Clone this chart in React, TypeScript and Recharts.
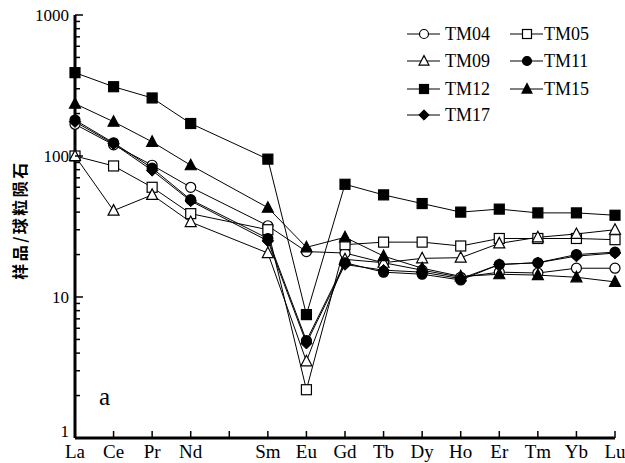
import React from 'react';
import { LineChart, Line, XAxis, YAxis, Legend } from 'recharts';

const elements = ['La', 'Ce', 'Pr', 'Nd', 'Pm', 'Sm', 'Eu', 'Gd', 'Tb', 'Dy', 'Ho', 'Er', 'Tm', 'Yb', 'Lu'];
const tickLabels = ['La', 'Ce', 'Pr', 'Nd', '', 'Sm', 'Eu', 'Gd', 'Tb', 'Dy', 'Ho', 'Er', 'Tm', 'Yb', 'Lu'];

const TM04 = [168, 120, 86, 60, null, 32, 21, 20.5, 17.5, 15.5, 13.8, 15, 14.8, 16, 16];
const TM05 = [100, 85, 60, 39, null, 30, 2.2, 23.5, 24.5, 24.5, 23, 26, 26, 26, 25.5];
const TM09 = [100, 41, 53, 34, null, 20.5, 3.5, 18.5, 17.5, 18.8, 19, 24, 26.5, 28, 30];
const TM11 = [180, 124, 82, 49, null, 26, 4.9, 17.5, 15, 14.5, 13.2, 17, 17.5, 20, 20.8];
const TM12 = [390, 310, 258, 170, null, 95, 7.5, 63, 53, 46, 40, 42, 39.5, 39.5, 38];
const TM15 = [235, 175, 126, 86, null, 43, 22.5, 26.5, 19.5, 16, 14, 14.5, 14.3, 13.8, 12.8];
const TM17 = [175, 122, 79, 48, null, 25, 4.7, 17, 15.5, 15, 13.5, 17, 17.5, 19.5, 20.5];

const seriesDefs = [
  { name: 'TM04', values: TM04, shape: 'circle', filled: false },
  { name: 'TM05', values: TM05, shape: 'square', filled: false },
  { name: 'TM09', values: TM09, shape: 'triangle', filled: false },
  { name: 'TM11', values: TM11, shape: 'circle', filled: true },
  { name: 'TM12', values: TM12, shape: 'square', filled: true },
  { name: 'TM15', values: TM15, shape: 'triangle', filled: true },
  { name: 'TM17', values: TM17, shape: 'diamond', filled: true },
];

const yTicks = [1, 2, 3, 4, 5, 6, 7, 8, 9, 10, 20, 30, 40, 50, 60, 70, 80, 90, 100, 200, 300, 400, 500, 600, 700, 800, 900, 1000];
const yMajor = [1, 10, 100, 1000];

const data = elements.map((el, i) => {
  const row: any = { el };
  seriesDefs.forEach((s) => {
    row[s.name] = s.values[i];
  });
  return row;
});

const FONT = '"Liberation Serif", "DejaVu Serif", serif';

function Marker({ cx, cy, shape, filled, size }: any) {
  const fill = filled ? '#000' : '#fff';
  const r = size / 2;
  if (shape === 'circle') {
    return <circle cx={cx} cy={cy} r={r} fill={fill} stroke="#000" strokeWidth={1.2} />;
  }
  if (shape === 'square') {
    return <rect x={cx - r} y={cy - r} width={size} height={size} fill={fill} stroke="#000" strokeWidth={1.2} />;
  }
  if (shape === 'triangle') {
    const h = size * 1.0;
    return (
      <polygon
        points={`${cx},${cy - h * 0.6} ${cx - r * 1.1},${cy + h * 0.45} ${cx + r * 1.1},${cy + h * 0.45}`}
        fill={fill}
        stroke="#000"
        strokeWidth={1.2}
      />
    );
  }
  const d = r * 1.15;
  return <polygon points={`${cx},${cy - d} ${cx + d},${cy} ${cx},${cy + d} ${cx - d},${cy}`} fill={fill} stroke="#000" strokeWidth={1} />;
}

function XTick(props: any) {
  const { x, y, index } = props;
  return (
    <g>
      <line x1={x} x2={x} y1={y} y2={y - 7} stroke="#000" strokeWidth={1.5} />
      <text x={x} y={y + 20} textAnchor="middle" style={{ fontFamily: FONT }} fontSize={19} fill="#000">
        {tickLabels[index] ?? ''}
      </text>
    </g>
  );
}

function YTick(props: any) {
  const { x, y, payload } = props;
  const v = payload.value;
  const major = yMajor.includes(v);
  return (
    <g>
      <line x1={x} x2={x + (major ? 8 : 5)} y1={y} y2={y} stroke="#000" strokeWidth={1.5} />
      {major ? (
        <text x={x - 6} y={v === 1 ? y - 1 : y + 6} textAnchor="end" style={{ fontFamily: FONT }} fontSize={17} fill="#000">
          {v}
        </text>
      ) : null}
    </g>
  );
}

function LegendContent() {
  return (
    <svg width={220} height={110}>
      {seriesDefs.map((s, i) => {
        const col = i % 2;
        const row = Math.floor(i / 2);
        const lx = col === 0 ? 7 : 110;
        const cy = [12, 39, 67, 93][row];
        const mx = lx + 17;
        return (
          <g key={s.name}>
            <line x1={lx} x2={lx + 33} y1={cy} y2={cy} stroke="#000" strokeWidth={1} />
            <Marker cx={mx} cy={cy} shape={s.shape} filled={s.filled} size={9} />
            <text x={lx + (col === 0 ? 38 : 34)} y={cy + 6} style={{ fontFamily: FONT }} fontSize={18} fill="#000">
              {s.name}
            </text>
          </g>
        );
      })}
    </svg>
  );
}

export default function App() {
  return (
    <div style={{ position: 'absolute', left: 0, top: 0, width: 625, height: 463, overflow: 'hidden', background: '#fff' }}>
      <style>{`html,body{margin:0;padding:0;overflow:hidden;}`}</style>
      <LineChart width={625} height={463} data={data} margin={{ top: 15, right: 10, bottom: 0, left: 0 }}>
        <XAxis
          dataKey="el"
          height={25}
          interval={0}
          tickLine={false}
          tickSize={0}
          tickMargin={0}
          axisLine={{ stroke: '#000', strokeWidth: 3 }}
          tick={<XTick />}
        />
        <XAxis xAxisId="top" dataKey="el" orientation="top" height={0} tick={false} tickLine={false} axisLine={{ stroke: '#000', strokeWidth: 3 }} />
        <YAxis
          scale="log"
          domain={[1, 1000]}
          ticks={yTicks}
          interval={0}
          width={75}
          allowDataOverflow
          tickLine={false}
          tickSize={0}
          tickMargin={0}
          axisLine={{ stroke: '#000', strokeWidth: 3 }}
          tick={<YTick />}
        />
        <YAxis yAxisId="right" orientation="right" width={0} domain={[0, 1]} type="number" tick={false} tickLine={false} axisLine={{ stroke: '#000', strokeWidth: 3 }} />
        <Legend
          layout="horizontal"
          verticalAlign="middle"
          align="center"
          content={<LegendContent />}
          wrapperStyle={{ position: 'absolute', left: 400, top: 22, width: 220, height: 110 }}
        />
        {seriesDefs.map((s) => (
          <Line
            key={s.name}
            dataKey={s.name}
            name={s.name}
            stroke="#000"
            strokeWidth={1}
            connectNulls
            isAnimationActive={false}
            dot={(p: any) =>
              p.cy == null || p.value == null ? (
                <g key={`${s.name}-${p.index}`} />
              ) : (
                <g key={`${s.name}-${p.index}`}>
                  <Marker cx={p.cx} cy={p.cy} shape={s.shape} filled={s.filled} size={10} />
                </g>
              )
            }
            activeDot={false}
          />
        ))}
      </LineChart>
      <svg width={40} height={463} style={{ position: 'absolute', left: 0, top: 0 }}>
        <text
          x={19}
          y={220}
          transform="rotate(-90, 19, 220)"
          textAnchor="middle"
          dominantBaseline="central"
          style={{ fontFamily: '"Noto Sans CJK SC", sans-serif' }}
          fontSize={16}
          fontWeight={600}
          letterSpacing={2.5}
          fill="#000"
        >
          样品/球粒陨石
        </text>
      </svg>
      <div style={{ position: 'absolute', left: 99, top: 384, fontFamily: FONT, fontSize: 25, color: '#000', lineHeight: 1 }}>a</div>
    </div>
  );
}
